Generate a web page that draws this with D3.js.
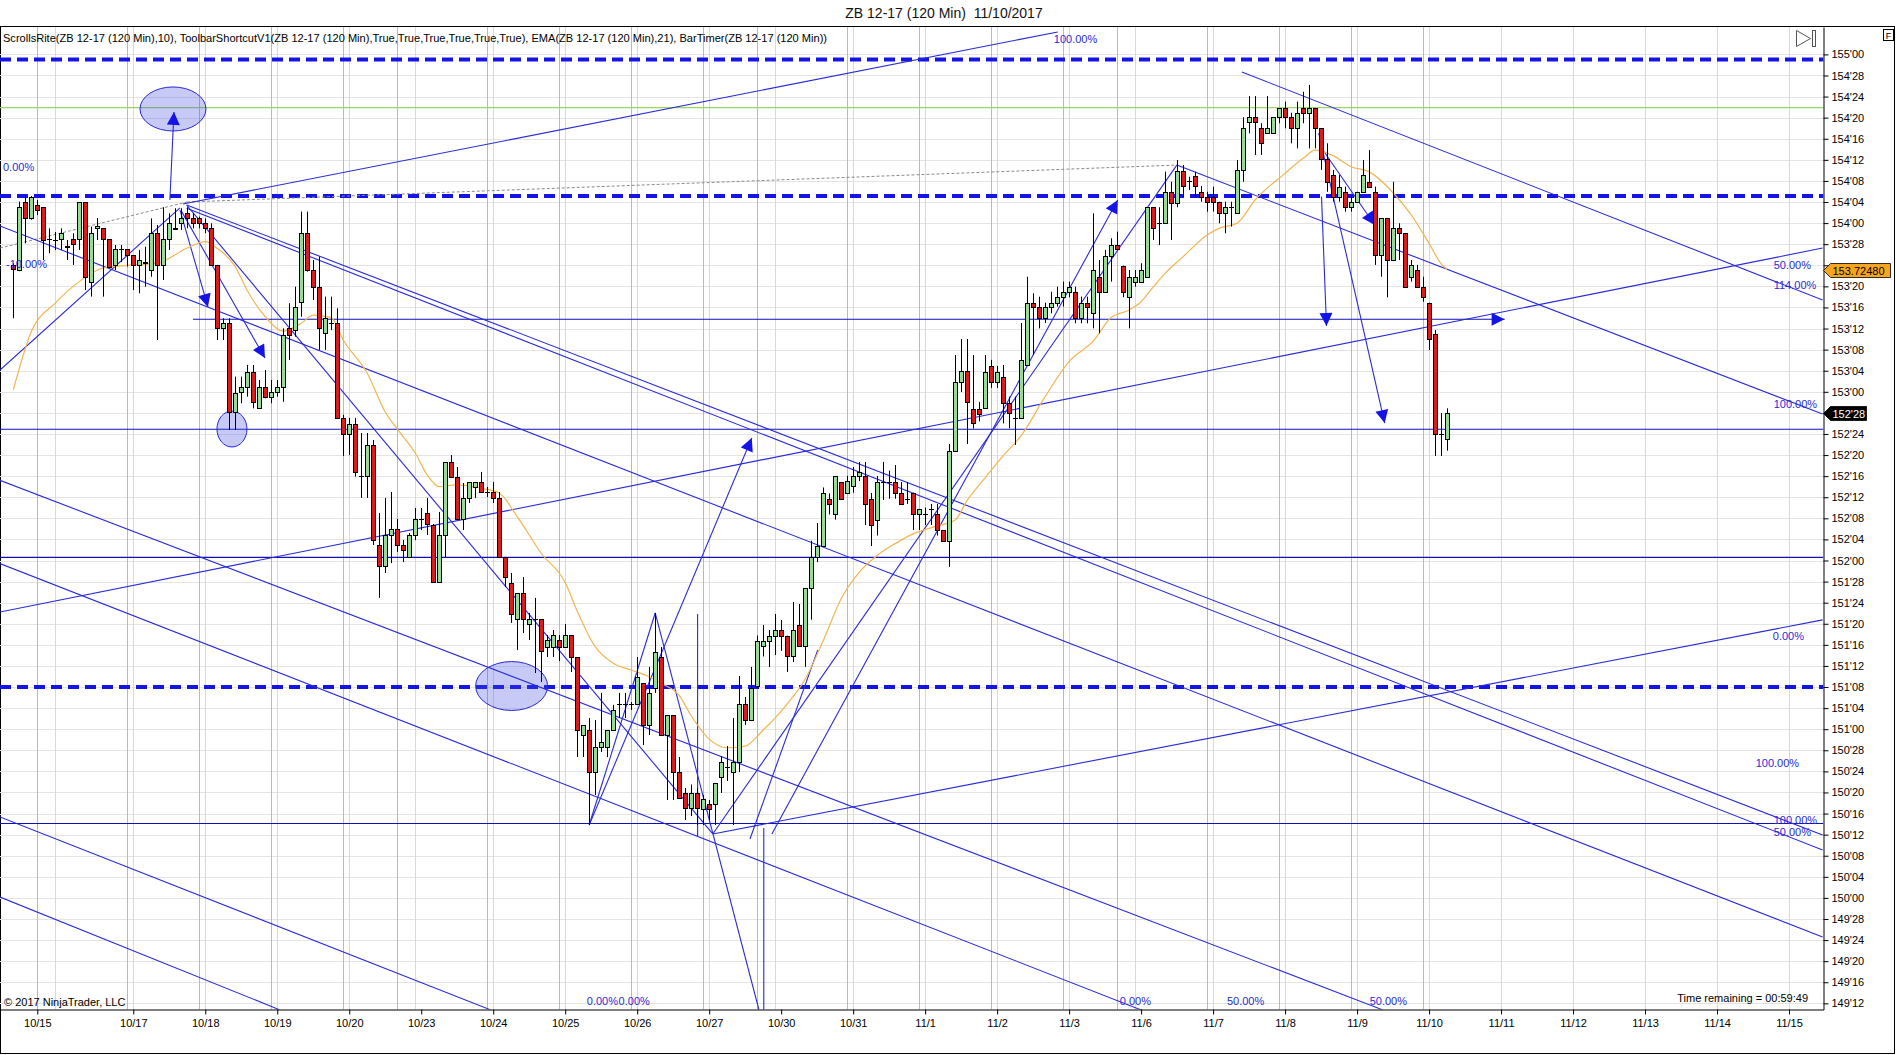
<!DOCTYPE html>
<html><head><meta charset="utf-8">
<script src="https://cdn.jsdelivr.net/npm/d3@7"></script>
<style>
body{margin:0;background:#fff;}
svg{display:block;font-family:"Liberation Sans",Arial,sans-serif;}
</style>
</head><body>
<svg id="c" width="1896" height="1055"></svg>
<script>
// ---------------- DATA ----------------
const open=[153.752,153.722,154.127,154.028,154.107,154.094,153.904,153.900,153.904,153.865,153.904,153.904,154.123,153.653,153.971,153.969,153.904,153.752,153.845,153.845,153.811,153.752,153.765,153.722,153.940,153.752,153.904,153.965,153.999,154.058,154.028,154.028,153.999,153.969,153.752,153.376,153.406,152.882,153.001,153.030,153.119,152.902,153.030,152.971,153.001,153.030,153.376,153.366,153.534,153.940,153.722,153.623,153.347,153.410,153.406,152.843,152.750,152.809,152.501,152.501,152.685,152.092,151.967,152.151,152.187,152.092,152.021,152.151,152.246,152.282,152.210,151.873,152.151,152.584,152.495,152.246,152.371,152.436,152.465,152.406,152.406,152.371,152.021,151.867,151.653,151.807,151.624,151.653,151.653,151.487,151.487,151.529,151.487,151.558,151.428,150.966,150.995,150.746,150.895,150.895,150.995,151.149,151.149,151.149,151.149,151.274,151.025,151.244,151.428,150.966,151.084,150.746,150.622,150.533,150.622,150.527,150.557,150.557,150.714,150.776,150.746,150.806,151.149,151.056,151.256,151.493,151.524,151.555,151.588,151.555,151.431,151.618,151.493,151.837,152.023,152.086,152.366,152.273,152.465,152.402,152.439,152.501,152.501,152.366,152.242,152.465,152.465,152.465,152.402,152.366,152.402,152.273,152.273,152.305,152.273,152.181,152.117,152.649,153.058,153.123,152.898,152.898,152.904,153.153,153.060,153.090,152.935,152.843,152.843,153.159,153.528,153.501,153.436,153.501,153.528,153.560,153.590,153.590,153.436,153.528,153.465,153.682,153.590,153.805,153.870,153.748,153.560,153.653,153.653,153.682,154.094,153.999,153.999,154.186,154.121,154.311,154.250,154.279,154.186,154.157,154.157,154.127,154.062,154.097,154.062,154.315,154.598,154.627,154.562,154.532,154.532,154.627,154.681,154.627,154.562,154.681,154.654,154.681,154.562,154.378,154.285,154.157,154.186,154.097,154.127,154.186,154.245,154.186,153.811,154.028,153.781,153.969,153.940,153.682,153.722,153.623,153.528,153.343,152.750,152.719];
const high=[153.762,154.127,154.157,154.160,154.137,154.094,153.969,153.947,153.969,153.900,153.940,154.123,154.123,153.979,154.030,153.969,153.904,153.870,153.870,153.845,153.811,153.841,153.860,154.028,153.989,154.094,154.058,154.088,154.088,154.094,154.058,154.038,154.028,153.999,153.752,153.436,153.436,153.090,153.090,153.159,153.159,153.070,153.129,153.070,153.070,153.376,153.525,153.623,154.068,154.068,153.781,153.801,153.564,153.564,153.495,152.863,152.845,152.845,152.756,152.756,152.714,152.282,152.371,152.406,152.246,152.122,152.163,152.311,152.311,152.371,152.216,152.288,152.584,152.625,152.554,152.459,152.465,152.465,152.525,152.436,152.465,152.406,152.021,151.926,151.807,151.902,151.689,151.778,151.653,151.558,151.588,151.558,151.624,151.558,151.428,151.025,151.066,151.054,151.215,150.995,151.144,151.215,151.215,151.161,151.428,151.274,151.369,151.689,151.487,151.084,151.084,150.835,150.651,150.672,150.651,150.610,150.580,150.681,150.838,150.900,151.066,151.315,151.191,151.369,151.555,151.618,151.588,151.683,151.647,151.555,151.754,151.742,151.837,152.117,152.222,152.433,152.398,152.501,152.465,152.501,152.554,152.584,152.584,152.400,152.501,152.584,152.533,152.566,152.465,152.465,152.402,152.305,152.314,152.335,152.335,152.181,152.691,153.218,153.313,153.313,153.218,152.940,153.218,153.189,153.153,153.159,152.971,152.971,153.408,153.682,153.584,153.564,153.528,153.593,153.623,153.653,153.653,153.623,153.564,153.564,154.058,153.781,153.841,153.910,153.949,153.748,153.722,153.722,153.762,154.094,154.094,154.094,154.305,154.245,154.374,154.344,154.275,154.305,154.220,154.186,154.216,154.127,154.127,154.127,154.374,154.627,154.753,154.753,154.592,154.753,154.627,154.681,154.720,154.654,154.720,154.779,154.819,154.681,154.562,154.473,154.315,154.285,154.216,154.157,154.186,154.374,154.433,154.216,154.028,154.028,154.245,153.999,153.940,153.781,153.752,153.682,153.528,153.366,152.874,152.902];
const low=[153.436,153.715,153.880,154.020,154.048,153.781,153.821,153.841,153.841,153.781,153.752,153.841,153.603,153.564,153.900,153.564,153.732,153.722,153.769,153.742,153.603,153.584,153.623,153.682,153.307,153.663,153.841,153.959,153.959,153.969,153.969,153.969,153.940,153.752,153.307,153.307,152.774,152.774,152.932,152.971,152.902,152.902,152.961,152.932,152.971,152.941,153.189,153.327,153.445,153.712,153.544,153.248,153.248,153.366,152.843,152.620,152.626,152.497,152.371,152.371,152.092,151.778,151.926,151.985,152.050,151.991,152.021,152.122,152.181,152.151,151.873,151.873,152.021,152.495,152.246,152.181,152.341,152.371,152.406,152.376,152.341,152.021,151.843,151.630,151.470,151.570,151.529,151.333,151.280,151.428,151.428,151.404,151.487,151.339,150.835,150.835,150.432,150.610,150.865,150.835,150.995,151.066,151.066,151.114,151.149,150.906,150.966,151.215,150.966,150.580,150.580,150.592,150.462,150.485,150.432,150.432,150.462,150.432,150.622,150.693,150.432,150.746,151.025,151.056,151.244,151.431,151.369,151.440,151.464,151.339,151.398,151.493,151.369,151.649,151.991,152.086,152.273,152.242,152.366,152.402,152.402,152.471,152.210,152.086,152.148,152.359,152.366,152.366,152.335,152.335,152.181,152.181,152.210,152.210,152.148,152.117,151.962,152.649,152.999,152.691,152.783,152.825,152.904,153.023,153.023,152.813,152.784,152.685,152.843,153.159,153.218,153.376,153.408,153.465,153.505,153.505,153.560,153.406,153.406,153.406,153.376,153.347,153.590,153.653,153.845,153.560,153.376,153.623,153.653,153.682,153.900,153.870,153.999,153.900,154.094,154.157,154.196,154.157,154.127,154.068,154.068,153.999,153.940,153.979,154.062,154.245,154.532,154.404,154.404,154.532,154.532,154.592,154.562,154.473,154.443,154.592,154.443,154.443,154.315,154.186,154.127,154.127,154.068,154.068,154.127,154.186,154.216,153.752,153.682,153.560,153.781,153.781,153.623,153.653,153.623,153.534,153.248,152.620,152.620,152.651];
const close=[153.726,154.094,154.028,154.157,154.078,153.900,153.904,153.900,153.940,153.860,153.874,154.123,153.682,153.940,153.983,153.904,153.742,153.845,153.848,153.811,153.752,153.781,153.769,153.940,153.752,153.904,153.999,153.969,154.028,154.028,153.999,153.999,153.969,153.752,153.376,153.406,152.882,152.991,153.030,153.119,152.941,153.030,152.971,153.001,153.030,153.337,153.337,153.505,153.940,153.722,153.623,153.376,153.436,153.406,152.843,152.750,152.809,152.526,152.501,152.685,152.122,151.967,152.151,152.187,152.092,152.062,152.151,152.246,152.246,152.216,151.873,152.151,152.584,152.495,152.246,152.371,152.465,152.465,152.406,152.406,152.371,152.021,151.902,151.683,151.807,151.653,151.653,151.653,151.464,151.529,151.558,151.487,151.558,151.428,150.995,151.025,150.746,150.895,150.924,150.995,151.114,151.149,151.149,151.149,151.309,151.025,151.215,151.458,150.966,151.084,150.746,150.592,150.533,150.622,150.533,150.589,150.527,150.681,150.806,150.776,150.806,151.149,151.056,151.244,151.524,151.524,151.555,151.588,151.555,151.431,151.588,151.493,151.837,152.023,152.086,152.402,152.335,152.501,152.366,152.471,152.501,152.526,152.335,152.210,152.465,152.465,152.465,152.402,152.335,152.366,152.273,152.305,152.273,152.305,152.181,152.117,152.649,153.058,153.123,152.940,152.815,152.871,153.119,153.060,153.119,152.935,152.873,152.843,153.189,153.528,153.501,153.436,153.501,153.528,153.564,153.590,153.623,153.436,153.528,153.501,153.722,153.590,153.805,153.870,153.845,153.590,153.682,153.682,153.722,154.094,153.969,153.999,154.186,154.121,154.311,154.220,154.250,154.220,154.157,154.127,154.127,154.062,154.097,154.097,154.315,154.562,154.627,154.598,154.473,154.562,154.627,154.681,154.627,154.562,154.654,154.654,154.681,154.562,154.378,154.245,154.157,154.216,154.097,154.127,154.186,154.285,154.216,153.811,154.028,153.781,153.969,153.940,153.623,153.752,153.623,153.560,153.311,152.750,152.750,152.875];

// EMA(21)
const emaBar=[0,3,7,11,15,20,24,29,32,34,37,39,42,45,48,50,53,55,59,62,64,67,69,71,74,78,81,84,88,92,94,97,100,103,106,108,111,113,116,119,122,125,129,132,135,138,141,144,147,150,154,157,159,162,165,168,172,176,180,183,186,188,190,192,195,199,201,204,207,212,215,217,220,223,226,230,233,236,238,239];
const emaVal=[153.011,153.356,153.526,153.653,153.734,153.752,153.763,153.852,153.890,153.850,153.742,153.600,153.445,153.360,153.406,153.455,153.440,153.307,153.110,152.880,152.780,152.637,152.507,152.438,152.448,152.428,152.400,152.260,152.043,151.870,151.700,151.489,151.391,151.351,151.311,151.272,151.200,151.080,150.941,150.890,150.900,150.995,151.149,151.296,151.524,151.773,151.930,152.030,152.100,152.158,152.205,152.240,152.356,152.490,152.620,152.740,152.971,153.180,153.300,153.440,153.485,153.534,153.620,153.702,153.801,153.929,153.969,153.999,154.137,154.295,154.384,154.433,154.400,154.334,154.305,154.180,154.050,153.880,153.760,153.725];
const emaLast=153.72480, lastPriceLabel="152'28", lastPrice=152.875;

// time axis
const dateLabels=["10/15","10/17","10/18","10/19","10/20","10/23","10/24","10/25","10/26","10/27","10/30","10/31","11/1","11/2","11/3","11/6","11/7","11/8","11/9","11/10","11/11","11/12","11/13","11/14","11/15"];
const dateBars=[4,20,32,44,56,68,80,92,104,116,128,140,152,164,176,188,200,212,224,236,248,260,272,284,296];
const sessionBars=[4,19,31,43,55,64,79,91,103,115,124,139,151,163,175,184,199,211,223,235];
const dayBars=[7,20,32,44,56,67,80,92,104,116,127,140,152,164,176,187,200,212,224,236,248,260,272,284,296];

// drawing objects (bar index, price)
const dashedLevels=[154.97,154.16,151.25];
const greenLevels=[154.685];
const blueLevels=[152.778,152.018,150.441];
const rayLevels=[[29.95,248.6,153.43]];
const trendLines=[
 [-2.22,153.129,27.78,154.090],
 [28.28,154.113,174.1,155.133],
 [-2.22,153.983,301.6,149.768],
 [28.9,154.107,301.6,150.373],
 [28.9,154.088,301.6,150.284],
 [28.9,154.107,116.6,150.379],
 [-2.22,151.695,301.6,153.852],
 [-2.22,152.475,228.3,149.336],
 [-2.22,151.982,188.0,149.336],
 [-2.22,150.005,44.45,149.336],
 [-2.22,150.480,79.6,149.336],
 [96,150.432,107,151.689],
 [107,151.689,124.3,149.336],
 [125.1,150.414,125.1,149.336],
 [114.07,151.683,114.07,150.367],
 [116.6,150.379,301.6,151.648],
 [116.6,150.379,193.95,154.344],
 [122.8,150.349,134.1,151.470],
 [193.95,154.344,301.6,152.868],
 [204.8,154.896,301.6,153.544]
];
const grayLines=[[-2.22,153.852,28.95,154.125],[28.95,154.125,193.95,154.344]];
const arrowLines=[
 [26.1,154.137,26.78,154.659],
 [27.78,154.078,32.45,153.503],
 [28.07,154.068,41.95,153.200],
 [96,150.432,123.1,152.726],
 [126.45,150.379,184.1,154.137],
 [218.07,154.157,218.9,153.390],
 [217.6,154.534,228.6,152.815],
 [218.3,154.433,226.95,153.989]
];
const ellipses=[[21.12,154.807,32.12,154.546],[33.95,152.886,38.95,152.673],[77.07,151.401,89.07,151.111]];
const levelTexts=["0.00%","-10.00%","100.00%","50.00%","114.00%","100.00%","0.00%","100.00%","100.00%","50.00%","0.00%","0.00%","0.00%","50.00%","50.00%"];
const levelTextBar=[-1.72,-1.22,173.45,293.45,293.45,293.45,293.3,290.45,293.45,293.45,95.6,100.9,184.45,202.3,226.1];
const levelTextPrice=[154.309,153.736,155.069,153.728,153.607,152.904,151.529,150.776,150.438,150.367,149.365,149.365,149.365,149.365,149.365];

// ---------------- CHART ----------------
const svg=d3.select("#c");
const W=1896,H=1055, L=0, R=1823.5, T=27, B=1009.5;
const x=d3.scaleLinear().domain([-2.2167,301.75]).range([L,R]);
const y=d3.scaleLinear().domain([149.3385,155.1624]).range([B,T]);
const priceTicks=d3.range(0,46).map(i=>149.375+i*0.125);
const fmt=p=>{const w=Math.floor(p+1e-9);const f=Math.round((p-w)*32);return w+"'"+String(f).padStart(2,"0");};
const badgePrices=[emaLast,lastPrice];
const hiddenTick=p=>badgePrices.some(b=>Math.abs(y(b)-y(p))<12);

svg.append("rect").attr("width",W).attr("height",H).attr("fill","#fff");
svg.append("defs").html(`
 <clipPath id="plot"><rect x="${L}" y="${T}" width="${R-L}" height="${B-T}"/></clipPath>
 <marker id="ah" viewBox="0 0 10 10" refX="10" refY="5" markerWidth="15" markerHeight="13" markerUnits="userSpaceOnUse" orient="auto"><path d="M0,0 L10,5 L0,10 z" fill="#1414e6"/></marker>`);

svg.append("text").attr("x",944).attr("y",18).attr("text-anchor","middle").attr("font-size",14).attr("fill","#111")
 .attr("xml:space","preserve").text("ZB 12-17 (120 Min)  11/10/2017");

svg.append("rect").attr("x",0.5).attr("y",26.5).attr("width",1894).attr("height",1027).attr("fill","none").attr("stroke","#000");

const g=svg.append("g").attr("clip-path","url(#plot)");
g.selectAll(".hg").data(priceTicks).join("line").attr("x1",L).attr("x2",R)
 .attr("y1",d=>Math.round(y(d))+0.5).attr("y2",d=>Math.round(y(d))+0.5).attr("stroke","#e4e4e4");
g.selectAll(".vs").data(sessionBars).join("line").attr("y1",T).attr("y2",B)
 .attr("x1",d=>Math.round(x(d))+0.5).attr("x2",d=>Math.round(x(d))+0.5).attr("stroke","#b9b9b9");
g.selectAll(".vd").data(dayBars).join("line").attr("y1",T).attr("y2",B)
 .attr("x1",d=>Math.round(x(d))+0.5).attr("x2",d=>Math.round(x(d))+0.5).attr("stroke","#dadada");

svg.append("text").attr("x",3).attr("y",42).attr("font-size",11).attr("fill","#000").attr("textLength",824).attr("lengthAdjust","spacingAndGlyphs")
 .text("ScrollsRite(ZB 12-17 (120 Min),10), ToolbarShortcutV1(ZB 12-17 (120 Min),True,True,True,True,True,True), EMA(ZB 12-17 (120 Min),21), BarTimer(ZB 12-17 (120 Min))");

g.selectAll(".dl").data(dashedLevels).join("line").attr("x1",L).attr("x2",R).attr("y1",d=>y(d)).attr("y2",d=>y(d))
 .attr("stroke","#1414e6").attr("stroke-width",4).attr("stroke-dasharray","11,6");
g.selectAll(".gl").data(greenLevels).join("line").attr("x1",L).attr("x2",R).attr("y1",d=>y(d)).attr("y2",d=>y(d))
 .attr("stroke","#9ad65a").attr("stroke-width",1.2);
g.selectAll(".bl").data(blueLevels).join("line").attr("x1",L).attr("x2",R).attr("y1",d=>y(d)).attr("y2",d=>y(d))
 .attr("stroke","#1010b8").attr("stroke-width",1.2);
g.selectAll(".rl").data(rayLevels).join("line").attr("x1",d=>x(d[0])).attr("x2",d=>x(d[1])).attr("y1",d=>y(d[2])).attr("y2",d=>y(d[2]))
 .attr("stroke","#1010b8").attr("stroke-width",1.2).attr("marker-end","url(#ah)");

g.selectAll(".el").data(ellipses).join("ellipse")
 .attr("cx",d=>(x(d[0])+x(d[2]))/2).attr("cy",d=>(y(d[1])+y(d[3]))/2)
 .attr("rx",d=>Math.abs(x(d[2])-x(d[0]))/2).attr("ry",d=>Math.abs(y(d[3])-y(d[1]))/2)
 .attr("fill","rgba(70,80,225,0.3)").attr("stroke","#2626d6").attr("stroke-width",1);

g.selectAll(".gr").data(grayLines).join("line").attr("x1",d=>x(d[0])).attr("y1",d=>y(d[1])).attr("x2",d=>x(d[2])).attr("y2",d=>y(d[3]))
 .attr("stroke","#8a8a8a").attr("stroke-dasharray","3,2");
g.selectAll(".tl").data(trendLines).join("line").attr("x1",d=>x(d[0])).attr("y1",d=>y(d[1])).attr("x2",d=>x(d[2])).attr("y2",d=>y(d[3]))
 .attr("stroke","#2a2ad8").attr("stroke-width",1.1);
g.selectAll(".al").data(arrowLines).join("line").attr("x1",d=>x(d[0])).attr("y1",d=>y(d[1])).attr("x2",d=>x(d[2])).attr("y2",d=>y(d[3]))
 .attr("stroke","#2a2ad8").attr("stroke-width",1.1).attr("marker-end","url(#ah)");

const emaPts=emaBar.map((b,i)=>[b,emaVal[i]]);
g.append("path").attr("d",d3.line().x(d=>x(d[0])).y(d=>y(d[1])).curve(d3.curveMonotoneX)(emaPts))
 .attr("fill","none").attr("stroke","#f2b550").attr("stroke-width",1.2);

const idx=d3.range(open.length);
const cg=g.append("g");
cg.selectAll(".wk").data(idx).join("line")
 .attr("x1",i=>Math.round(x(i))+0.5).attr("x2",i=>Math.round(x(i))+0.5)
 .attr("y1",i=>y(high[i])).attr("y2",i=>y(low[i])).attr("stroke","#000").attr("stroke-width",1);
cg.selectAll(".bd").data(idx).join("rect")
 .attr("x",i=>Math.round(x(i))-1.5).attr("width",4)
 .attr("y",i=>Math.round(y(Math.max(open[i],close[i])))+0.5)
 .attr("height",i=>Math.max(0.01,Math.round(y(Math.min(open[i],close[i])))-Math.round(y(Math.max(open[i],close[i])))))
 .attr("fill",i=>close[i]>=open[i]?"#96dc96":"#da1c1c").attr("stroke","#000").attr("stroke-width",1);

g.selectAll(".lt").data(levelTexts).join("text").attr("x",(d,i)=>x(levelTextBar[i])).attr("y",(d,i)=>y(levelTextPrice[i]))
 .attr("font-size",11).attr("fill","#2a2ad8").text(d=>d);

svg.append("text").attr("x",4).attr("y",1006).attr("font-size",11).attr("fill","#000").text("© 2017 NinjaTrader, LLC");
svg.append("text").attr("x",1808).attr("y",1002).attr("text-anchor","end").attr("font-size",11).attr("fill","#000").text("Time remaining = 00:59:49");

const ya=svg.append("g").attr("transform",`translate(${R},0)`)
 .call(d3.axisRight(y).tickValues(priceTicks).tickFormat(p=>hiddenTick(p)?"":fmt(p)).tickSize(5).tickSizeOuter(0));
ya.select(".domain").attr("stroke","#000");
ya.selectAll("text").attr("font-size",11).attr("font-family","Liberation Sans, Arial").attr("fill","#000").attr("x",8);
const xa=svg.append("g").attr("transform",`translate(0,${B})`)
 .call(d3.axisBottom(x).tickValues(dateBars).tickFormat((d,i)=>dateLabels[i]).tickSize(5).tickSizeOuter(0));
xa.select(".domain").attr("stroke","#000");
xa.selectAll("text").attr("font-size",11).attr("font-family","Liberation Sans, Arial").attr("fill","#000").attr("dy","0.9em");

function badge(p,label,fill,tc,w){
 const yy=Math.round(y(p))+0.5;
 svg.append("path").attr("d",`M${R},${yy} L${R+7},${yy-7} L${R+7+w},${yy-7} L${R+7+w},${yy+7} L${R+7},${yy+7} Z`)
  .attr("fill",fill).attr("stroke","#000").attr("stroke-width",0.8);
 svg.append("text").attr("x",R+9).attr("y",yy+4).attr("font-size",11).attr("fill",tc).text(label);
}
badge(emaLast,emaLast.toFixed(5),"#f7a51e","#000",60);
badge(lastPrice,lastPriceLabel,"#000","#fff",36);

svg.append("path").attr("d","M1796.5,30.5 L1810.5,38.5 L1796.5,46.5 Z").attr("fill","#fff").attr("stroke","#555");
svg.append("rect").attr("x",1812.5).attr("y",30.5).attr("width",3).attr("height",16).attr("fill","#fff").attr("stroke","#555");
svg.append("rect").attr("x",1883.5).attr("y",29.5).attr("width",10).attr("height",11).attr("fill","#fff").attr("stroke","#000");
svg.append("text").attr("x",1888.5).attr("y",38.5).attr("text-anchor","middle").attr("font-size",9).text("F");
</script>
</body></html>
